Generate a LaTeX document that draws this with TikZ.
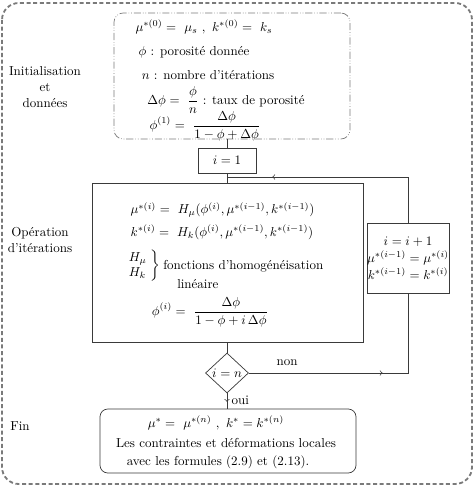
\documentclass[tikz,border=0pt]{standalone}
\usetikzlibrary{shapes.geometric,decorations.markings}
\definecolor{figL}{HTML}{3A3A3A}
\definecolor{figG}{HTML}{7A7A7A}

\begin{document}
\begin{tikzpicture}[x=0.77pt,y=-0.77pt,>=to,
  sized/.style 2 args={minimum width=#1*0.77pt,minimum height=#2*0.77pt},
  box/.style={draw=figL,line width=0.55pt,inner sep=0pt},
  line/.style={draw=figL,line width=0.55pt},
  arrowat/.style={postaction={decorate},decoration={markings,mark=at position #1 with {\arrow{>}}}}]
\useasboundingbox (0,0) rectangle (474,487);
% cadre general
\draw[figG,line width=1.4pt,dash pattern=on 3.1pt off 2pt,rounded corners=13pt] (2,3) rectangle (472,484);
% etiquettes de gauche
\node[align=center] (lblinit) at (45,87) {Initialisation\\et\\données};
\node[align=center] (lbliter) at (40,240) {Opération\\d'itérations};
\node (lblfin) at (20,426) {Fin};
% initialisation
\node[box,draw=figG,sized={236}{126},rounded corners=7pt,dash pattern=on 5.5pt off 1.5pt on 0.5pt off 1.5pt on 0.5pt off 1.5pt] (init) at (232,76) {};
\node (ini1) at (204,27) {$\mu^{*(0)} =\ \mu_s\ ,\ k^{*(0)} =\ k_s$};
\node (ini2) at (194,52) {$\phi$ : porosité donnée};
\node (ini3) at (208,75) {$n$ : nombre d'itérations};
\node (ini4) at (226,100) {$\displaystyle\Delta\phi =\ \frac{\phi}{n}$ : taux de porosité};
\node (ini5) at (205,126) {$\displaystyle\phi^{(1)} =\ \frac{\Delta\phi}{1-\phi+\Delta\phi}$};
% iterations
\node[box,sized={58}{25}] (start) at (227,160.5) {$i=1$};
\node[box,sized={271}{159}] (iter) at (227.5,262.5) {};
\node[anchor=west] (it1) at (126,210) {$\mu^{*(i)} =\ H_\mu(\phi^{(i)},\mu^{*(i-1)},k^{*(i-1)})$};
\node[anchor=west] (it2) at (126,232) {$k^{*(i)} =\ H_k(\phi^{(i)},\mu^{*(i-1)},k^{*(i-1)})$};
\node[anchor=west,inner sep=0pt] (it3) at (127,266) {$\left.\begin{array}{@{}l@{}}H_\mu\\H_k\end{array}\ \right\}$};
\node[anchor=west,inner sep=0pt] (it4) at (163,266) {fonctions d'homogénéisation};
\node[anchor=west,inner sep=0pt] (it5) at (177,284) {linéaire};
\node (it6) at (210,312) {$\displaystyle\phi^{(i)} =\ \frac{\Delta\phi}{1-\phi+i\,\Delta\phi}$};
\node[box,sized={80}{70},align=center] (upd) at (408,258) {$i=i+1$\\[1pt]$\mu^{*(i-1)}=\mu^{*(i)}$\\[1pt]$k^{*(i-1)}=k^{*(i)}$};
\node[box,diamond,sized={43}{40}] (test) at (227,373) {$i=n$};
% fin
\node[box,sized={256}{64},rounded corners=6pt] (fin) at (228,441) {};
\node (fin1) at (216,423) {$\mu^{*} =\ \mu^{*(n)}\ ,\ k^{*} = k^{*(n)}$};
\node (fin2) at (226,443) {Les contraintes et déformations locales};
\node (fin3) at (218,462) {avec les formules (2.9) et (2.13).};
% liaisons
\coordinate (join) at (227,177);
\draw[line] (start.north) -- (start.north |- init.south);
\draw[line] (start.south) -- (start.south |- iter.north);
\draw[line] (test.north) -- (test.north |- iter.south);
\draw[line,arrowat=0.8] (upd.north) |- (join);
\draw[line,arrowat=0.56] (test.east) -| (upd.south) node[pos=0.12,above=2pt] (non) {non};
\draw[line,arrowat=0.55] (test.south) -- (test.south |- fin.north) node[pos=0.45,right=0pt] (oui) {oui};
\end{tikzpicture}
\end{document}
